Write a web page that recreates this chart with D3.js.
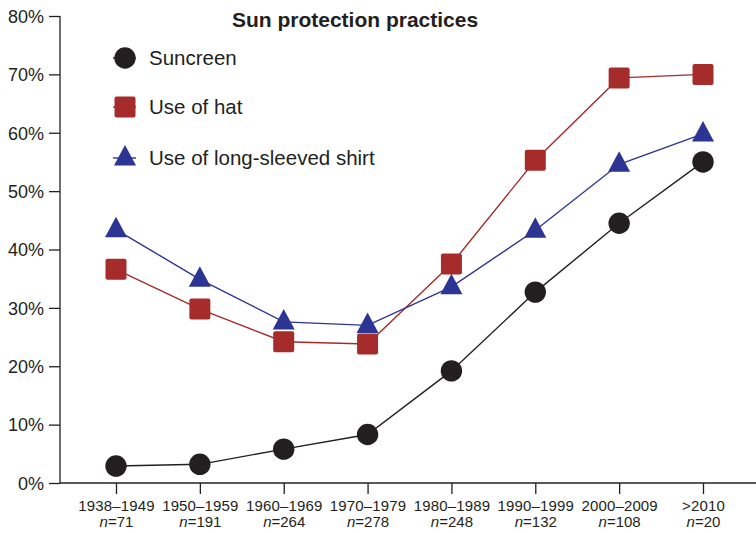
<!DOCTYPE html>
<html><head><meta charset="utf-8">
<script src="https://cdn.jsdelivr.net/npm/d3@7"></script>
<style>body{margin:0;background:#fff}svg{display:block}text{font-family:"Liberation Sans",Arial,sans-serif;fill:#231f20}</style>
</head><body><svg id="c" width="756" height="533"></svg>
<script>
const categories = ["1938–1949","1950–1959","1960–1969","1970–1979","1980–1989","1990–1999","2000–2009",">2010"];
const sampleSizes = [71,191,264,278,248,132,108,20];
const sunscreen = [2.9,3.2,5.8,8.3,19.2,32.7,44.5,55.0];
const hat = [36.6,29.8,24.2,23.8,37.5,55.3,69.4,70.0];
const shirt = [43.4,34.9,27.6,27.0,33.6,43.3,54.6,59.8];
const yTicks = [0,10,20,30,40,50,60,70,80];
const seriesNames = ["Suncreen","Use of hat","Use of long-sleeved shirt"];
const title = "Sun protection practices";

const svg = d3.select("#c");
const x = d3.scalePoint().domain(categories).range([116,703]);
const y = d3.scaleLinear().domain([0,80]).range([483,16]);
const colors = ["#231f20","#a52c2b","#2c3593"];
const shapes = ["circle","square","triangle"];
const data = [sunscreen,hat,shirt];

// axes
const ya = svg.append("g").attr("transform","translate(60,0)")
  .call(d3.axisLeft(y).tickValues(yTicks).tickFormat(d=>d+"%").tickSize(11).tickPadding(5));
ya.select(".domain").attr("stroke","#231f20").attr("stroke-width",1.3).attr("d","M0,16V483");
ya.selectAll(".tick line").attr("stroke","#231f20").attr("stroke-width",1.3);
ya.selectAll(".tick text").style("font-size","18px").attr("dy","0.35em");

const xa = svg.append("g").attr("transform","translate(0,483)")
  .call(d3.axisBottom(x).tickSize(11).tickFormat(""));
xa.select(".domain").attr("stroke","#231f20").attr("stroke-width",1.3).attr("d","M60,0H756");
xa.selectAll(".tick line").attr("stroke","#231f20").attr("stroke-width",1.3);
xa.selectAll(".tick").each(function(d,i){
  const g = d3.select(this);
  g.append("text").attr("y",28).attr("text-anchor","middle").style("font-size","15px").style("letter-spacing","0.15px").text(d);
  const t = g.append("text").attr("y",44).attr("text-anchor","middle").style("font-size","15px");
  t.append("tspan").style("font-style","italic").text("n");
  t.append("tspan").text("="+sampleSizes[i]);
});

function marker(g, shape, color, cx, cy){
  if(shape==="circle") g.append("circle").attr("cx",cx).attr("cy",cy).attr("r",10.7).attr("fill",color);
  else if(shape==="square") g.append("rect").attr("x",cx-10.5).attr("y",cy-10.5).attr("width",21).attr("height",21).attr("rx",2).attr("fill",color);
  else g.append("path").attr("d",`M${cx},${cy-13}L${cx+11},${cy+7.5}L${cx-11},${cy+7.5}Z`).attr("fill",color);
}

// lines
const line = d3.line().x((d,i)=>x(categories[i])).y(d=>y(d));
[1,2,0].forEach(s=>{
  svg.append("path").datum(data[s]).attr("d",line).attr("fill","none").attr("stroke",colors[s]).attr("stroke-width",1.4);
});
[1,2,0].forEach(s=>{
  const g = svg.append("g");
  data[s].forEach((v,i)=>marker(g,shapes[s],colors[s],x(categories[i]),y(v)));
});

// title
svg.append("text").attr("x",355).attr("y",27).attr("text-anchor","middle").style("font-size","21px").style("font-weight","bold").text(title);

// legend
const ly = [58,107,158];
seriesNames.forEach((n,s)=>{
  const g = svg.append("g");
  g.append("line").attr("x1",113).attr("x2",136).attr("y1",ly[s]).attr("y2",ly[s]).attr("stroke",colors[s]).attr("stroke-width",1.4);
  marker(g,shapes[s],colors[s],125,ly[s]);
  g.append("text").attr("x",149).attr("y",ly[s]).attr("dy","0.35em").style("font-size","20.5px").text(n);
});
</script></body></html>
